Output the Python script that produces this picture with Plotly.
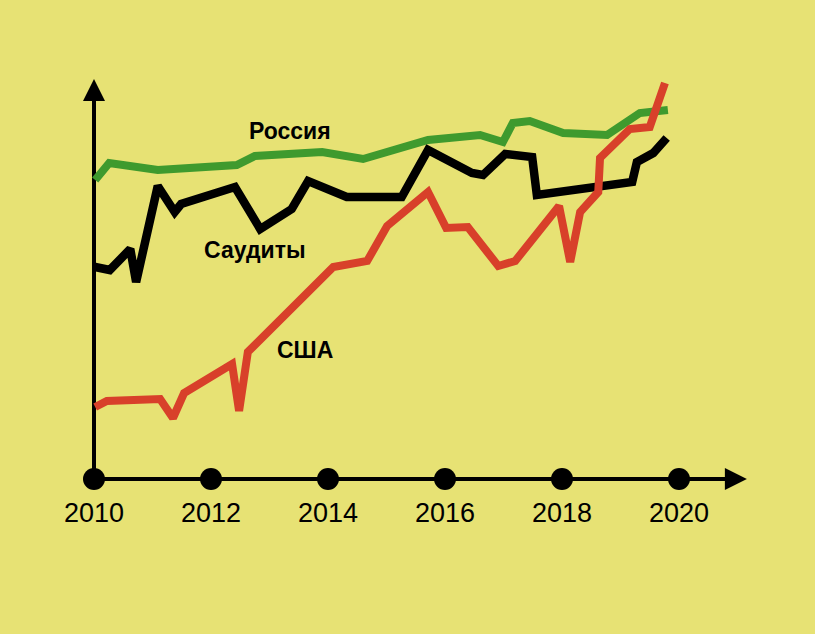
import plotly.graph_objects as go

# ---- data (x in years, y in arbitrary units) ----
russia_x = [2010.02, 2010.26, 2011.09, 2012.44, 2012.75, 2013.90, 2014.60, 2015.71,
            2016.60, 2016.99, 2017.16, 2017.45, 2018.02, 2018.77, 2019.33, 2019.81]
russia_y = [29.9, 31.6, 30.9, 31.4, 32.3, 32.7, 32.0, 33.9,
            34.4, 33.7, 35.6, 35.8, 34.6, 34.4, 36.6, 36.9]

saudi_x = [2010.02, 2010.27, 2010.62, 2010.72, 2011.09, 2011.38, 2011.49, 2012.41,
           2012.84, 2013.38, 2013.66, 2014.32, 2015.26, 2015.71, 2016.46, 2016.65,
           2017.03, 2017.49, 2017.57, 2019.20, 2019.28, 2019.56, 2019.79]
saudi_y = [21.2, 20.9, 23.0, 19.7, 29.3, 26.7, 27.5, 29.2,
           25.0, 27.0, 29.8, 28.2, 28.2, 32.9, 30.6, 30.4,
           32.5, 32.2, 28.4, 29.7, 31.7, 32.6, 34.1]

usa_x = [2010.02, 2010.22, 2011.13, 2011.35, 2011.54, 2012.36, 2012.48, 2012.63,
         2014.09, 2014.67, 2015.01, 2015.71, 2016.02, 2016.39, 2016.91, 2017.20,
         2017.95, 2018.14, 2018.31, 2018.62, 2018.65, 2019.16, 2019.50, 2019.76]
usa_y = [7.2, 7.8, 8.0, 6.1, 8.6, 11.5, 6.8, 12.7,
         21.2, 21.8, 25.3, 28.7, 25.1, 25.2, 21.3, 21.8,
         27.3, 21.7, 26.7, 28.7, 32.1, 35.0, 35.2, 39.6]

tick_years = [2010, 2012, 2014, 2016, 2018, 2020]
tick_labels = ["2010", "2012", "2014", "2016", "2018", "2020"]

series_names = ["Россия", "Саудиты", "США"]
label_x = [2013.35, 2012.75, 2013.61]
label_y = [34.8, 22.9, 12.9]

# axis extent
x_start, x_tip = 2010, 2021.16
y_start, y_tip = 0, 40.0

BG = "#E7E274"
GREEN = "#3F9A2E"
RED = "#D8402A"
BLACK = "#000000"

fig = go.Figure()

# axes lines
fig.add_trace(go.Scatter(x=[x_start, x_start], y=[y_start, y_tip - 1.8], mode="lines",
                         line=dict(color=BLACK, width=4), hoverinfo="skip", showlegend=False))
fig.add_trace(go.Scatter(x=[x_start, x_tip - 0.3], y=[y_start, y_start], mode="lines",
                         line=dict(color=BLACK, width=4), hoverinfo="skip", showlegend=False))
# arrow heads
fig.add_trace(go.Scatter(x=[x_start], y=[y_tip], mode="markers",
                         marker=dict(symbol="arrow-up", size=22, color=BLACK, line=dict(width=0)),
                         hoverinfo="skip", showlegend=False))
fig.add_trace(go.Scatter(x=[x_tip], y=[y_start], mode="markers",
                         marker=dict(symbol="arrow-right", size=22, color=BLACK, line=dict(width=0)),
                         hoverinfo="skip", showlegend=False))

# series
fig.add_trace(go.Scatter(x=russia_x, y=russia_y, mode="lines", name=series_names[0],
                         line=dict(color=GREEN, width=8), showlegend=False))
fig.add_trace(go.Scatter(x=saudi_x, y=saudi_y, mode="lines", name=series_names[1],
                         line=dict(color=BLACK, width=8.5), showlegend=False))
fig.add_trace(go.Scatter(x=usa_x, y=usa_y, mode="lines", name=series_names[2],
                         line=dict(color=RED, width=8), showlegend=False))

# tick dots
fig.add_trace(go.Scatter(x=tick_years, y=[y_start] * len(tick_years), mode="markers",
                         marker=dict(symbol="circle", size=22, color=BLACK, line=dict(width=0)),
                         hoverinfo="skip", showlegend=False))

annotations = []
for xv, lab in zip(tick_years, tick_labels):
    annotations.append(dict(x=xv, y=-3.4, xref="x", yref="y", text=lab, showarrow=False,
                            font=dict(family="Liberation Sans, Arial, sans-serif", size=27, color=BLACK),
                            xanchor="center", yanchor="middle"))
for nm, xv, yv in zip(series_names, label_x, label_y):
    annotations.append(dict(x=xv, y=yv, xref="x", yref="y", text="<b>%s</b>" % nm, showarrow=False,
                            font=dict(family="Liberation Sans, Arial, sans-serif", size=23, color=BLACK),
                            xanchor="center", yanchor="middle"))

px_per_year = 58.5
x0 = 2010 - 94 / px_per_year
x1 = x0 + 815 / px_per_year
y_lo = (479 - 634) / 10
y_hi = 479 / 10

fig.update_layout(
    width=815, height=634,
    margin=dict(l=0, r=0, t=0, b=0),
    paper_bgcolor=BG, plot_bgcolor=BG,
    xaxis=dict(visible=False, range=[x0, x1], fixedrange=True),
    yaxis=dict(visible=False, range=[y_lo, y_hi], fixedrange=True),
    annotations=annotations,
    showlegend=False,
)

fig.write_html("out.html")
